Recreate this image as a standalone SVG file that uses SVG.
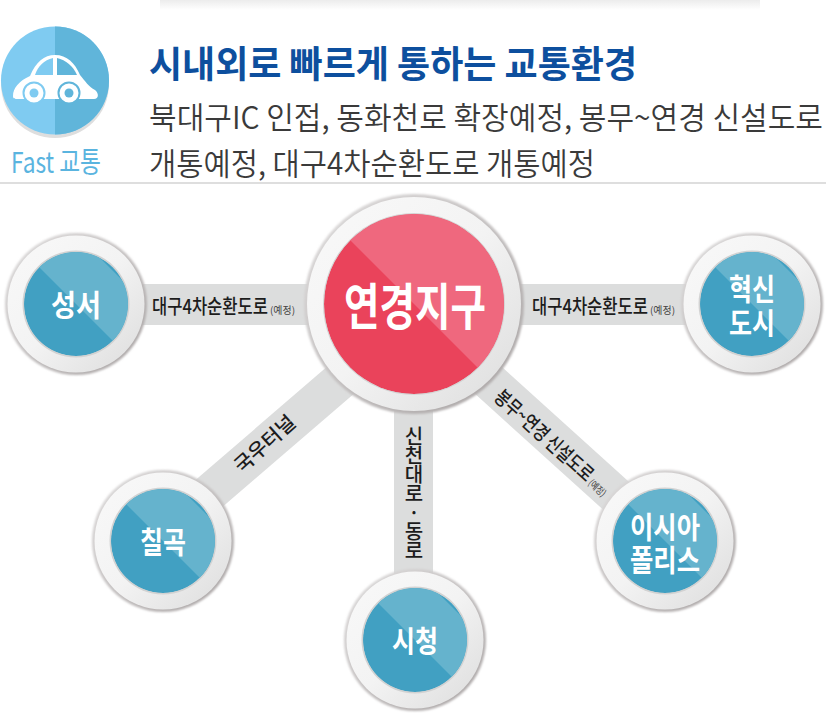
<svg xmlns="http://www.w3.org/2000/svg" width="826" height="715" viewBox="0 0 826 715">
<defs>
<style>
text{font-family:"Noto Sans CJK KR","Noto Sans",sans-serif}
.band{stroke:#dcdddd;fill:none}
.lab{font-size:20px;font-weight:500;fill:#1c1c1c}
.sm{font-size:10px;font-weight:400;fill:#444}
.node{font-size:30px;font-weight:700;fill:#fff;text-anchor:middle}
.sub{font-size:31px;font-weight:350;fill:#3a3a3a}
</style>
<linearGradient id="ring" x1="0" y1="0" x2="1" y2="1"><stop offset="0" stop-color="#f9f9f9"/><stop offset="0.5" stop-color="#f3f3f3"/><stop offset="1" stop-color="#dcdcdc"/></linearGradient>
<linearGradient id="rim" x1="0" y1="0" x2="1" y2="1"><stop offset="0" stop-color="#e0dede"/><stop offset="1" stop-color="#a8a3a3"/></linearGradient>
<linearGradient id="top" x1="0" y1="0" x2="0" y2="1"><stop offset="0" stop-color="#ececec"/><stop offset="1" stop-color="#ffffff"/></linearGradient>
<filter id="soft" x="-10%" y="-10%" width="120%" height="120%"><feGaussianBlur stdDeviation="1"/></filter>
<clipPath id="cs"><circle r="52"/></clipPath>
<clipPath id="cb"><circle r="90"/></clipPath>
<g id="small">
<circle r="71" fill="url(#rim)" filter="url(#soft)"/>
<circle r="68.5" fill="url(#ring)"/>
<circle r="53.5" fill="#d2d2d2"/>
<g clip-path="url(#cs)"><circle r="52" fill="#41a0c2"/><path d="M-37-37L37 37L70 0L0-70Z" fill="#65b3cd"/></g>
</g>
</defs>
<rect width="826" height="715" fill="#fff"/>
<rect x="160" y="0" width="600" height="10" fill="url(#top)"/>
<g id="header">
<circle cx="55" cy="84" r="54" fill="#dedede"/>
<circle cx="55" cy="80.500" r="54" fill="#7fcbf1"/>
<path d="M55 26.500A54 54 0 0 1 55 134.500Z" fill="#60b5da"/>
<path d="M13 96C13 88 19 81 30 76C36 62 44 55 55 55C67 55 75 63 80 75C85 81 89 87 95 90C99 93 99 99 94 99H18C15 99 13 99 13 96Z" fill="#fff"/>
<path d="M35 75C38 66 44 60 53 58V75Z" fill="#7fcbf1"/>
<path d="M57 58C66 60 73 66 77 75H57Z" fill="#60b5da"/>
<circle cx="34" cy="93" r="10.500" fill="#fff" stroke="#7fcbf1" stroke-width="2"/><circle cx="34" cy="93" r="4.500" fill="#7fcbf1"/>
<circle cx="69" cy="93" r="10.500" fill="#fff" stroke="#60b5da" stroke-width="2"/><circle cx="69" cy="93" r="4.500" fill="#60b5da"/>
<text x="11" y="173" font-size="29" fill="#5ab4df" textLength="90" lengthAdjust="spacingAndGlyphs">Fast 교통</text>
<text x="149" y="78" font-size="37" font-weight="700" fill="#0d4f9e" textLength="488" lengthAdjust="spacingAndGlyphs">시내외로 빠르게 통하는 교통환경</text>
<text x="149" y="129" class="sub" textLength="674" lengthAdjust="spacingAndGlyphs">북대구IC 인접, 동화천로 확장예정, 봉무~연경 신설도로</text>
<text x="149" y="175" class="sub" textLength="446" lengthAdjust="spacingAndGlyphs">개통예정, 대구4차순환도로 개통예정</text>
<rect x="0" y="182" width="826" height="2" fill="#dedede"/>
</g>
<g id="connectors">
<path class="band" stroke-width="41" d="M76 304.500H752"/>
<path class="band" stroke-width="39" d="M413.500 304V640"/>
<path class="band" stroke-width="38" d="M414 317L163 533"/>
<path class="band" stroke-width="38" d="M414 313L665 540"/>
</g>
<g id="labels">
<text x="152" y="314" class="lab"><tspan textLength="116" lengthAdjust="spacingAndGlyphs">대구4차순환도로</tspan><tspan class="sm" dx="2" textLength="25" lengthAdjust="spacingAndGlyphs">(예정)</tspan></text>
<text x="532" y="314" class="lab"><tspan textLength="116" lengthAdjust="spacingAndGlyphs">대구4차순환도로</tspan><tspan class="sm" dx="2" textLength="25" lengthAdjust="spacingAndGlyphs">(예정)</tspan></text>
<text transform="translate(242 474) rotate(-42)" class="lab" textLength="74" lengthAdjust="spacingAndGlyphs">국우터널</text>
<text x="414" y="426" class="lab" style="writing-mode:vertical-rl;text-orientation:upright;letter-spacing:-1px">신천대로·동로</text>
<text transform="translate(493 399) rotate(42)" class="lab"><tspan textLength="125" lengthAdjust="spacingAndGlyphs">봉무~연경 신설도로</tspan><tspan class="sm" dx="2" textLength="20" lengthAdjust="spacingAndGlyphs">(예정)</tspan></text>
</g>
<g id="n-seoseo"><use href="#small" x="76" y="304"/><text x="76" y="316" class="node" textLength="50" lengthAdjust="spacingAndGlyphs">성서</text></g>
<g id="n-hyeoksin"><use href="#small" x="752" y="304"/><text class="node"><tspan x="752" y="300" textLength="46" lengthAdjust="spacingAndGlyphs">혁신</tspan><tspan x="752" y="334" textLength="46" lengthAdjust="spacingAndGlyphs">도시</tspan></text></g>
<g id="n-chilgok"><use href="#small" x="163" y="541"/><text x="163" y="553" class="node" textLength="46" lengthAdjust="spacingAndGlyphs">칠곡</text></g>
<g id="n-sicheong"><use href="#small" x="415" y="640"/><text x="415" y="652" class="node" textLength="46" lengthAdjust="spacingAndGlyphs">시청</text></g>
<g id="n-isia"><use href="#small" x="665" y="541"/><text class="node"><tspan x="665" y="538" textLength="70" lengthAdjust="spacingAndGlyphs">이시아</tspan><tspan x="665" y="571" textLength="70" lengthAdjust="spacingAndGlyphs">폴리스</tspan></text></g>
<g id="n-center">
<circle cx="414" cy="304" r="110" fill="url(#rim)" filter="url(#soft)"/>
<circle cx="414" cy="304" r="107" fill="url(#ring)"/>
<circle cx="414" cy="304" r="91" fill="#d4d4d4"/>
<g transform="translate(414 304)"><g clip-path="url(#cb)"><circle r="90" fill="#ea435b"/><path d="M-64-64L64 64L130 0L0-130Z" fill="#ef687e"/></g></g>
<text x="415" y="325" font-size="50" font-weight="700" fill="#fff" text-anchor="middle" textLength="142" lengthAdjust="spacingAndGlyphs">연경지구</text>
</g>
</svg>
